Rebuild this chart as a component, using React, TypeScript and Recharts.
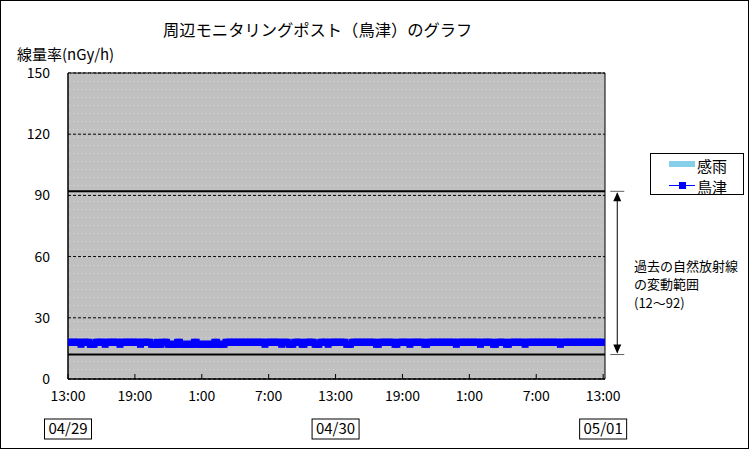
import React from "react";
import {
  ComposedChart,
  Line,
  Bar,
  XAxis,
  YAxis,
  CartesianGrid,
  ReferenceLine,
  ReferenceArea,
  Legend,
} from "recharts";

// 10-minute readings, 04/29 13:00 -> 05/01 13:00 (鳥津, nGy/h)
const doseValues: number[] = [
  18, 18, 18, 18, 18, 18, 18, 17, 18, 18, 18, 18,
  17, 17, 17, 18, 18, 18, 18, 18, 17, 18, 18, 18,
  18, 18, 18, 18, 17, 18, 18, 18, 18, 18, 18, 18,
  18, 18, 18, 17, 18, 18, 18, 18, 18, 17, 17, 17,
  18, 17, 17, 18, 18, 18, 17, 17, 17, 17, 17, 18,
  18, 17, 17, 17, 17, 17, 17, 17, 18, 18, 17, 17,
  17, 17, 17, 17, 17, 17, 17, 18, 18, 17, 17, 17,
  17, 18, 18, 18, 18, 18, 18, 18, 18, 18, 18, 18,
  18, 18, 18, 18, 18, 18, 18, 18, 18, 18, 17, 18,
  18, 18, 18, 18, 18, 18, 18, 17, 18, 18, 18, 17,
  17, 17, 18, 18, 18, 18, 17, 17, 18, 18, 18, 18,
  18, 17, 17, 17, 18, 18, 18, 18, 17, 18, 18, 18,
  18, 18, 18, 18, 18, 18, 17, 17, 17, 18, 18, 18,
  18, 18, 18, 18, 18, 18, 18, 18, 18, 18, 17, 17,
  18, 18, 18, 18, 18, 18, 18, 18, 17, 17, 18, 18,
  18, 18, 18, 18, 17, 18, 18, 18, 18, 18, 18, 18,
  17, 17, 18, 18, 18, 18, 18, 18, 18, 18, 18, 18,
  18, 18, 18, 18, 18, 17, 18, 18, 18, 18, 18, 18,
  18, 18, 18, 18, 18, 18, 17, 18, 18, 18, 18, 18,
  18, 17, 17, 18, 18, 18, 18, 18, 17, 17, 18, 18,
  18, 18, 18, 18, 18, 18, 17, 18, 18, 18, 18, 18,
  18, 18, 18, 18, 18, 18, 18, 18, 18, 18, 18, 18,
  18, 17, 18, 18, 18, 18, 18, 18, 18, 18, 18, 18,
  18, 18, 18, 18, 18, 18, 18, 18, 18, 18, 18, 18,
  18,
];

// 感雨 (rain detection): no rain in this period
const rainValues: (number | null)[] = [];

const timeTicks = [0, 36, 72, 108, 144, 180, 216, 252, 288];
const timeLabels = ["13:00", "19:00", "1:00", "7:00", "13:00", "19:00", "1:00", "7:00", "13:00"];
const dateTicks = [0, 144, 288];
const dateLabels = ["04/29", "04/30", "05/01"];
const yTicks = [0, 30, 60, 90, 120, 150];
const rangeLow = 12;
const rangeHigh = 92;

const seriesRainName = "感雨";
const seriesDoseName = "鳥津";
const titleText = "周辺モニタリングポスト（鳥津）のグラフ";
const yLabelText = "線量率(nGy/h)";
const noteLines = ["過去の自然放射線", "の変動範囲", "(12～92)"];

const data = doseValues.map((v, i) => ({
  i,
  dose: v,
  rain: rainValues[i] ?? null,
}));

const FONT = "'Noto Sans CJK JP', 'Noto Sans', sans-serif";

const XTick = (props: any) => {
  const { x, y, payload } = props;
  const idx = timeTicks.indexOf(payload.value);
  const dIdx = dateTicks.indexOf(payload.value);
  return (
    <g>
      <line x1={x} y1={y - 5} x2={x} y2={y} stroke="#000" strokeWidth={1} />
      <text x={x} y={y + 22} textAnchor="middle" fontSize={14} fill="#000" fontFamily={FONT}>
        {idx >= 0 ? timeLabels[idx] : ""}
      </text>
      {dIdx >= 0 && (
        <g>
          <rect x={x - 23.5} y={y + 40} width={47} height={20} fill="#fff" stroke="#000" strokeWidth={1} />
          <text x={x} y={y + 55} textAnchor="middle" fontSize={15} fill="#000" fontFamily={FONT}>
            {dateLabels[dIdx]}
          </text>
        </g>
      )}
    </g>
  );
};

const SquareDot = (props: any) => {
  const { cx, cy, index } = props;
  if (cx == null || cy == null) return <g key={`d${index}`} />;
  return <rect key={`d${index}`} x={cx - 3.5} y={cy - 3.5} width={7} height={7} fill="#0000FF" />;
};

const RangeArrow = (props: any) => {
  const { x1, y1, y2 } = props;
  const top = Math.min(y1, y2);
  const bot = Math.max(y1, y2);
  return (
    <g>
      <line x1={x1 - 7} y1={top} x2={x1 + 7} y2={top} stroke="#606060" strokeWidth={1} />
      <line x1={x1 - 7} y1={bot} x2={x1 + 7} y2={bot} stroke="#606060" strokeWidth={1} />
      <line x1={x1} y1={top + 2} x2={x1} y2={bot - 2} stroke="#000" strokeWidth={1} />
      <polygon points={`${x1},${top + 1} ${x1 - 4},${top + 10} ${x1 + 4},${top + 10}`} fill="#000" />
      <polygon points={`${x1},${bot - 1} ${x1 - 4},${bot - 10} ${x1 + 4},${bot - 10}`} fill="#000" />
    </g>
  );
};

const LegendBox = () => (
  <div
    style={{
      position: "relative",
      width: 94,
      height: 42,
      boxSizing: "border-box",
      border: "1px solid #000",
      background: "#fff",
      fontFamily: FONT,
      color: "#000",
    }}
  >
    <div style={{ position: "absolute", left: 18, top: 7, width: 26, height: 6, background: "#87CEEB" }} />
    <div style={{ position: "absolute", left: 46, top: 3.5, fontSize: 15, lineHeight: "15px", whiteSpace: "nowrap" }}>
      {seriesRainName}
    </div>
    <div style={{ position: "absolute", left: 18, top: 31, width: 26, height: 1, background: "#0000FF" }} />
    <div style={{ position: "absolute", left: 27.5, top: 28, width: 7, height: 7, background: "#0000FF" }} />
    <div style={{ position: "absolute", left: 46, top: 24.5, fontSize: 15, lineHeight: "15px", whiteSpace: "nowrap" }}>
      {seriesDoseName}
    </div>
  </div>
);

export default function App() {
  return (
    <div
      style={{
        position: "relative",
        width: 749,
        height: 449,
        boxSizing: "border-box",
        border: "1px solid #000",
        background: "#fff",
        fontFamily: FONT,
        color: "#000",
        overflow: "hidden",
      }}
    >
      <style>{"body{margin:0}"}</style>
      <ComposedChart
        width={747}
        height={447}
        data={data}
        margin={{ top: 72, right: 143, bottom: 0, left: 0 }}
        style={{ fontFamily: FONT }}
      >
        <defs>
          <pattern id="dots" width="4" height="8" patternUnits="userSpaceOnUse">
            <rect x="0" y="0" width="1" height="1" fill="#D8D8D8" />
          </pattern>
        </defs>
        <CartesianGrid
          vertical={false}
          fill="#C0C0C0"
          fillOpacity={1}
          stroke="#000"
          strokeDasharray="3 2"
        />
        <ReferenceArea
          x1={0}
          x2={289}
          y1={0}
          y2={150}
          fill="url(#dots)"
          fillOpacity={1}
          stroke="#000"
          strokeWidth={1}
          ifOverflow="visible"
        />
        <XAxis
          type="number"
          dataKey="i"
          domain={[0, 289]}
          ticks={timeTicks}
          interval={0}
          height={69}
          tickSize={0}
          tickMargin={0}
          tickLine={false}
          axisLine={{ stroke: "#000" }}
          tick={<XTick />}
          allowDataOverflow
        />
        <YAxis
          type="number"
          domain={[0, 150]}
          ticks={yTicks}
          interval={0}
          width={67}
          tickSize={0}
          tickMargin={18}
          tickLine={false}
          axisLine={{ stroke: "#000" }}
          tick={{ fontSize: 14, fill: "#000", fontFamily: FONT }}
        />
        <ReferenceLine y={rangeHigh} stroke="#000" strokeWidth={2} />
        <ReferenceLine y={rangeLow} stroke="#000" strokeWidth={2} />
        <ReferenceLine
          segment={[
            { x: 295.6, y: rangeHigh },
            { x: 295.6, y: rangeLow },
          ]}
          ifOverflow="visible"
          shape={(p: any) => <RangeArrow {...p} />}
        />
        <Bar dataKey="rain" name={seriesRainName} fill="#87CEEB" barSize={2} isAnimationActive={false} />
        <Line
          type="linear"
          dataKey="dose"
          name={seriesDoseName}
          stroke="#0000FF"
          strokeWidth={1}
          dot={(p: any) => <SquareDot {...p} />}
          activeDot={false}
          isAnimationActive={false}
        />
        <Legend
          layout="vertical"
          align="center"
          verticalAlign="middle"
          content={() => <LegendBox />}
          wrapperStyle={{ left: 649, top: 152, width: 94, height: 42, right: "auto", bottom: "auto" }}
        />
      </ComposedChart>
      <div
        style={{
          position: "absolute",
          left: 162,
          top: 20,
          fontSize: 16.3,
          lineHeight: "16.3px",
          whiteSpace: "nowrap",
        }}
      >
        {titleText}
      </div>
      <div
        style={{
          position: "absolute",
          left: 16,
          top: 44.5,
          fontSize: 15,
          lineHeight: "15px",
          whiteSpace: "nowrap",
        }}
      >
        {yLabelText}
      </div>
      <div
        style={{
          position: "absolute",
          left: 633,
          top: 256,
          fontSize: 13,
          lineHeight: "18.3px",
          whiteSpace: "nowrap",
        }}
      >
        {noteLines.map((t, k) => (
          <div key={k}>{t}</div>
        ))}
      </div>
    </div>
  );
}
